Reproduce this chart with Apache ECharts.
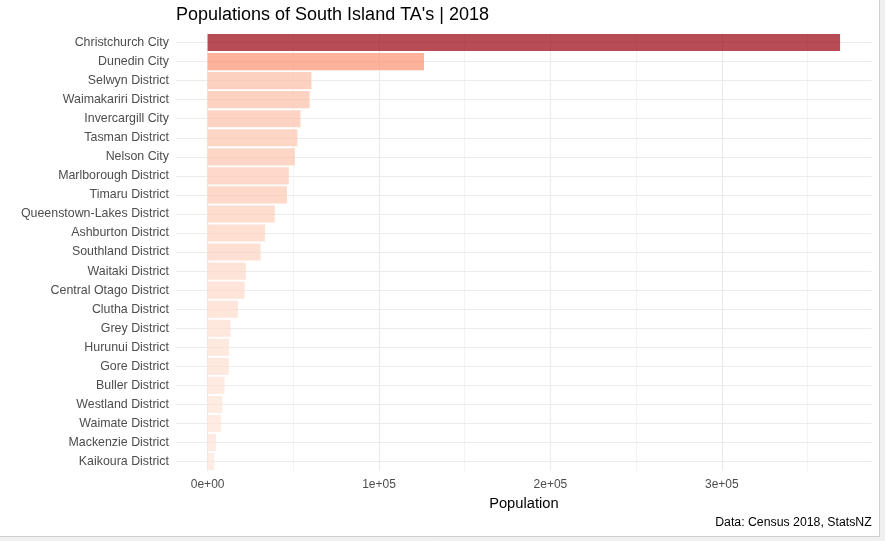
<!DOCTYPE html>
<html>
<head>
<meta charset="utf-8">
<script src="https://cdn.jsdelivr.net/npm/echarts@6/dist/echarts.min.js"></script>
<style>html,body{margin:0;padding:0;background:#fff;}#c{width:885px;height:541px;}</style>
</head>
<body>
<div id="c"></div>
<script>
// ---- data ----
const categories = ["Christchurch City","Dunedin City","Selwyn District","Waimakariri District","Invercargill City","Tasman District","Nelson City","Marlborough District","Timaru District","Queenstown-Lakes District","Ashburton District","Southland District","Waitaki District","Central Otago District","Clutha District","Grey District","Hurunui District","Gore District","Buller District","Westland District","Waimate District","Mackenzie District","Kaikoura District"];
const population = [369006,126255,60561,59502,54204,52389,50880,47340,46296,39153,33423,30864,22308,21558,17664,13371,12558,12396,9840,8640,7815,4998,3912];
const majorTicks = [0,100000,200000,300000];
const majorTickLabels = ["0e+00","1e+05","2e+05","3e+05"];
const minorTicks = [50000,150000,250000,350000];
const titleText = "Populations of South Island TA's | 2018";
const xTitle = "Population";
const captionText = "Data: Census 2018, StatsNZ";
const reds = ['#FEE5D9','#FCBBA1','#FC9272','#FB6A4A','#EF3B2C','#CB181D','#99000D'];

const maxV = Math.max(...population), minV = Math.min(...population);
const pad = maxV * 0.05;
const FONT = "'Liberation Sans', Arial, sans-serif";

const chart = echarts.init(document.getElementById('c'), null, {renderer:'canvas'});
const gridLines = [];
majorTicks.forEach(v => gridLines.push({xAxis: v, lineStyle:{color:'#ebebeb', width:1.1, type:'solid'}}));
minorTicks.forEach(v => gridLines.push({xAxis: v, lineStyle:{color:'#ebebeb', width:0.6, type:'solid'}}));
categories.forEach((c,i) => gridLines.push({yAxis: i, lineStyle:{color:'#ebebeb', width:1.1, type:'solid'}}));

chart.setOption({
  animation:false,
  backgroundColor:'#ffffff',
  textStyle:{fontFamily:FONT},
  title:{
    text:titleText, left:171, top:1.5,
    textStyle:{fontFamily:FONT, fontSize:18, fontWeight:'normal', color:'#000'}
  },
  grid:{left:176, right:13.3, top:33, height:438.1, containLabel:false},
  xAxis:{
    type:'value', min:-pad, max:maxV+pad,
    axisLine:{show:false}, axisTick:{show:false}, splitLine:{show:false},
    axisLabel:{
      customValues: majorTicks,
      formatter:(v)=>{ const i = majorTicks.indexOf(v); return i>=0 ? majorTickLabels[i] : ''; },
      color:'#4d4d4d', fontSize:12, fontFamily:FONT, margin:8
    },
    name:xTitle, nameLocation:'middle', nameGap:25.5,
    nameTextStyle:{color:'#000', fontSize:14.7, fontFamily:FONT}
  },
  yAxis:{
    type:'category', data:categories, inverse:true,
    axisLine:{show:false}, axisTick:{show:false}, splitLine:{show:false},
    axisLabel:{color:'#4d4d4d', fontSize:12.4, fontFamily:FONT, margin:7}
  },
  visualMap:{
    type:'continuous', show:false, min:minV, max:maxV, dimension:0, seriesIndex:1,
    inRange:{color:reds}
  },
  series:[
    {type:'line', data:[], z:1, silent:true,
     markLine:{silent:true, z:1, symbol:'none', label:{show:false}, animation:false, data:gridLines}},
    {type:'bar', z:3, barWidth:'90%',
     data: population.map((v,i)=>[v, categories[i]]),
     encode:{x:0, y:1},
     itemStyle:{opacity:0.7}}
  ],
  graphic:[
    {type:'text', right:13.3, top:516.5, style:{text:captionText, fontFamily:FONT, fontSize:12.3, fill:'#000'}},
    {type:'rect', shape:{x:879, y:0, width:6, height:541}, style:{fill:'#f0f0f0'}, silent:true},
    {type:'rect', shape:{x:0, y:536, width:885, height:5}, style:{fill:'#f0f0f0'}, silent:true},
    {type:'line', shape:{x1:879.5, y1:0, x2:879.5, y2:536.5}, style:{stroke:'#cfcfcf', lineWidth:1}, silent:true},
    {type:'line', shape:{x1:0, y1:536.5, x2:879.5, y2:536.5}, style:{stroke:'#cfcfcf', lineWidth:1}, silent:true}
  ]
});
</script>
</body>
</html>
